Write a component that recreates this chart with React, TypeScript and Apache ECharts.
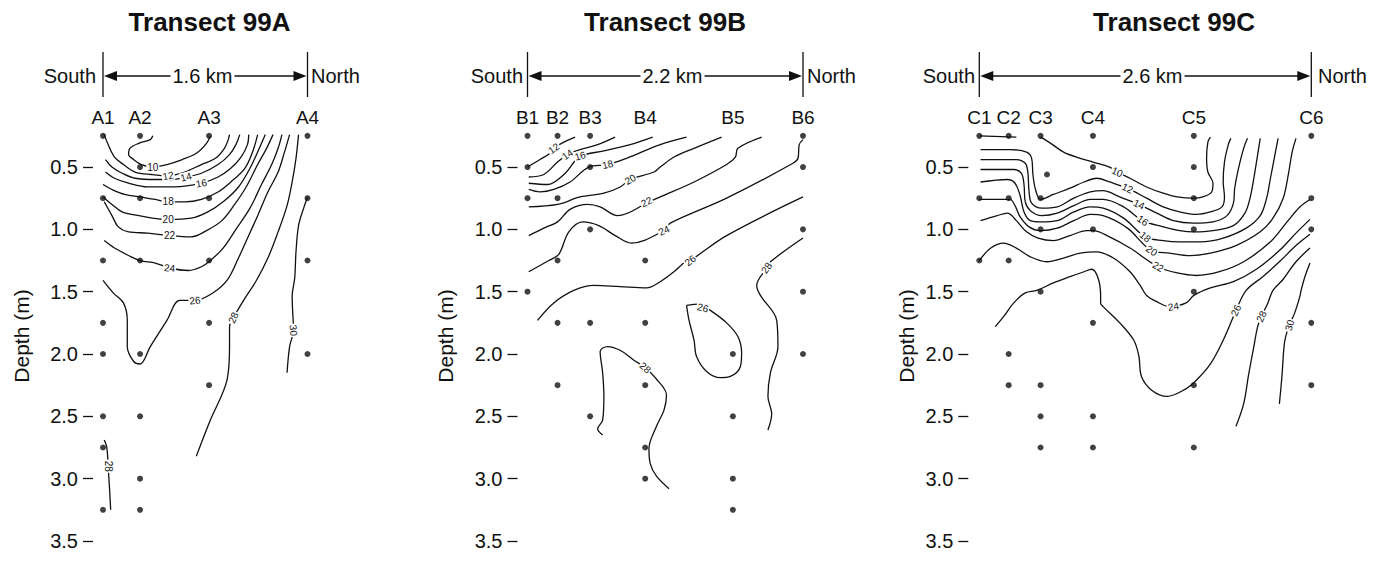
import React, { useEffect, useRef } from 'react';
import * as echarts from 'echarts';

const FONT = '"Liberation Sans", Arial, Helvetica, sans-serif';
const INK = '#111';

const depthTicks = [0.5, 1.0, 1.5, 2.0, 2.5, 3.0, 3.5];

// ---------------- Transect 99A ----------------
const stationsA = ['A1', 'A2', 'A3', 'A4'];
const stationKmA = [0, 0.29, 0.83, 1.6];
const sampleDepthsA = [
  [0.25, 0.75, 1.25, 1.75, 2.0, 2.5, 2.75, 3.25],
  [0.25, 0.5, 0.75, 1.25, 2.0, 2.5, 3.0, 3.25],
  [0.25, 0.75, 1.25, 1.75, 2.25],
  [0.25, 0.75, 1.25, 2.0],
];
const isoA10 = [[0.39,0.25],[0.37,0.28],[0.28,0.31],[0.21,0.35],[0.2,0.4],[0.24,0.44],[0.3,0.48],[0.39,0.5],[0.5,0.48],[0.62,0.44],[0.73,0.39],[0.81,0.31],[0.84,0.25]];
const isoA12 = [[0.01,0.24],[0.04,0.32],[0.09,0.42],[0.16,0.48],[0.25,0.54],[0.38,0.56],[0.51,0.57],[0.64,0.54],[0.77,0.48],[0.88,0.43],[0.95,0.35],[0.98,0.28],[0.99,0.24]];
const isoA14 = [[0.02,0.44],[0.07,0.5],[0.15,0.55],[0.25,0.59],[0.41,0.6],[0.54,0.6],[0.65,0.58],[0.77,0.55],[0.9,0.48],[0.99,0.4],[1.04,0.32],[1.07,0.24]];
const isoA16 = [[0.02,0.54],[0.09,0.59],[0.2,0.63],[0.35,0.66],[0.56,0.66],[0.77,0.63],[0.9,0.58],[1.0,0.51],[1.08,0.42],[1.13,0.32],[1.14,0.24]];
const isoA18 = [[0.0,0.64],[0.07,0.68],[0.17,0.72],[0.29,0.74],[0.41,0.76],[0.51,0.78],[0.64,0.78],[0.77,0.76],[0.9,0.7],[1.0,0.62],[1.11,0.51],[1.17,0.38],[1.21,0.24]];
const isoA20 = [[0.0,0.74],[0.07,0.8],[0.15,0.86],[0.28,0.89],[0.51,0.92],[0.69,0.91],[0.82,0.86],[0.95,0.77],[1.06,0.66],[1.15,0.51],[1.21,0.38],[1.27,0.24]];
const isoA22 = [[0.01,0.78],[0.07,0.89],[0.12,0.98],[0.2,1.02],[0.35,1.03],[0.52,1.05],[0.69,1.06],[0.81,1.01],[0.93,0.93],[1.03,0.8],[1.12,0.66],[1.21,0.48],[1.28,0.35],[1.33,0.24]];
const isoA24 = [[0.01,1.09],[0.09,1.15],[0.2,1.21],[0.29,1.25],[0.41,1.27],[0.52,1.31],[0.67,1.33],[0.77,1.3],[0.84,1.25],[0.94,1.15],[1.04,1.0],[1.15,0.83],[1.24,0.64],[1.32,0.48],[1.37,0.35],[1.4,0.24]];
const isoA26 = [[0.0,1.41],[0.08,1.51],[0.16,1.59],[0.19,1.73],[0.19,1.94],[0.24,2.06],[0.29,2.08],[0.37,1.94],[0.5,1.73],[0.6,1.57],[0.72,1.57],[0.86,1.51],[0.97,1.41],[1.06,1.23],[1.14,1.05],[1.21,0.89],[1.29,0.7],[1.37,0.54],[1.42,0.38],[1.46,0.24]];
const isoA28 = [[0.73,2.82],[0.84,2.53],[0.97,2.21],[0.99,1.94],[0.99,1.78],[1.02,1.71],[1.1,1.57],[1.2,1.41],[1.29,1.23],[1.37,1.02],[1.44,0.81],[1.48,0.62],[1.51,0.43],[1.53,0.24]];
const isoA30 = [[1.6,0.74],[1.57,0.83],[1.53,0.97],[1.51,1.18],[1.5,1.39],[1.48,1.54],[1.49,1.81],[1.46,1.94],[1.44,2.15]];
const isoA28b = [[0.01,2.69],[0.03,2.75],[0.04,2.9],[0.05,3.06],[0.06,3.25]];
// [km, depth, isotherm value, text angle in degrees]
const contourLabelsA = [
  [0.39,0.5,10,0],[0.51,0.57,12,10],[0.65,0.58,14,15],[0.77,0.63,16,10],[0.51,0.78,18,0],
  [0.51,0.92,20,0],[0.52,1.05,22,0],[0.52,1.31,24,-5],[0.72,1.57,26,5],[1.02,1.71,28,65],
  [1.49,1.81,30,-85],[0.04,2.9,28,-90],
];

// ---------------- Transect 99B ----------------
const stationsB = ['B1', 'B2', 'B3', 'B4', 'B5', 'B6'];
const stationKmB = [0, 0.24, 0.5, 0.94, 1.64, 2.2];
const sampleDepthsB = [
  [0.25, 0.5, 0.75, 1.5],
  [0.25, 0.75, 1.25, 1.75, 2.25],
  [0.25, 0.5, 1.0, 1.75, 2.5],
  [1.25, 1.75, 2.25, 2.75, 3.0],
  [2.0, 2.5, 3.0, 3.25],
  [0.25, 0.5, 1.0, 1.5, 2.0],
];
const isoB12 = [[0,0.5],[0.1,0.44],[0.18,0.39],[0.21,0.35],[0.29,0.3],[0.38,0.26]];
const isoB14 = [[0.01,0.58],[0.13,0.56],[0.24,0.46],[0.32,0.4],[0.42,0.36],[0.56,0.32],[0.7,0.26]];
const isoB16 = [[0.01,0.63],[0.16,0.64],[0.29,0.56],[0.38,0.45],[0.42,0.41],[0.61,0.37],[0.82,0.32],[1.0,0.26]];
const isoB18 = [[0.01,0.68],[0.1,0.7],[0.21,0.68],[0.34,0.62],[0.49,0.5],[0.64,0.48],[0.79,0.43],[1.06,0.32],[1.27,0.26]];
const isoB20 = [[0.01,0.82],[0.24,0.8],[0.42,0.74],[0.61,0.71],[0.74,0.66],[0.82,0.6],[1.01,0.54],[1.06,0.5],[1.17,0.42],[1.33,0.35],[1.55,0.26]];
const isoB22 = [[0.01,1.05],[0.13,0.99],[0.24,0.94],[0.34,0.84],[0.48,0.8],[0.58,0.82],[0.72,0.89],[0.97,0.78],[1.06,0.74],[1.33,0.62],[1.59,0.48],[1.66,0.42],[1.68,0.35],[1.87,0.26]];
const isoB24 = [[0.01,1.34],[0.17,1.25],[0.25,1.2],[0.33,1.02],[0.44,0.94],[0.57,0.97],[0.7,1.05],[0.83,1.11],[1.09,1.01],[1.14,0.95],[1.59,0.75],[2.12,0.47],[2.16,0.43],[2.17,0.32],[2.2,0.28]];
const isoB26 = [[0.08,1.73],[0.21,1.59],[0.37,1.49],[0.53,1.45],[0.74,1.46],[0.95,1.47],[1.06,1.42],[1.17,1.34],[1.26,1.26],[1.3,1.25],[1.59,1.05],[2.2,0.74]];
const isoB26loop = [[1.27,1.61],[1.37,1.6],[1.46,1.65],[1.59,1.75],[1.68,1.86],[1.71,1.99],[1.7,2.1],[1.62,2.18],[1.54,2.19],[1.43,2.14],[1.35,2.02],[1.33,1.89],[1.29,1.73],[1.27,1.61]];
const isoB28 = [[2.2,1.07],[1.94,1.26],[1.91,1.31],[1.83,1.45],[1.86,1.53],[1.99,1.73],[2.0,1.94],[1.94,2.15],[1.92,2.34],[1.95,2.48],[1.92,2.61]];
const isoB28mid = [[0.6,2.65],[0.56,2.6],[0.6,2.53],[0.61,2.34],[0.6,2.15],[0.58,1.98],[0.64,1.94],[0.74,1.97],[0.85,2.05],[0.94,2.11],[1.02,2.19],[1.11,2.33],[1.09,2.45],[1.03,2.58],[0.97,2.76],[0.98,2.88],[1.03,2.98],[1.13,3.08]];
const contourLabelsB = [
  [0.21,0.35,12,35],[0.32,0.4,14,35],[0.42,0.41,16,15],[0.64,0.48,18,15],[0.82,0.6,20,30],
  [0.95,0.78,22,25],[1.09,1.01,24,25],[1.3,1.25,26,40],[1.91,1.31,28,55],[1.4,1.63,26,-15],
  [0.94,2.11,28,-40],
];

// ---------------- Transect 99C ----------------
const stationsC = ['C1', 'C2', 'C3', 'C4', 'C5', 'C6'];
const stationKmC = [0, 0.23, 0.48, 0.89, 1.68, 2.6];
const sampleDepthsC = [
  [0.25, 0.75, 1.25],
  [0.25, 0.75, 1.25, 2.0, 2.25],
  [0.25, 0.75, 1.0, 1.5, 2.25, 2.5, 2.75],
  [0.25, 0.5, 1.0, 1.75, 2.5, 2.75],
  [0.25, 0.5, 0.75, 1.0, 1.5, 2.25, 2.75],
  [0.25, 0.75, 1.0, 1.75, 2.25],
];
const extraSamplesC = [[0.53, 0.56]];
const isoC10top = [[0,0.25],[0.29,0.26]];
const isoC10 = [[0.48,0.26],[0.56,0.31],[0.66,0.38],[0.79,0.43],[0.89,0.46],[1.02,0.5],[1.08,0.54],[1.18,0.59],[1.31,0.66],[1.44,0.71],[1.55,0.74],[1.68,0.75],[1.75,0.74],[1.82,0.7],[1.83,0.63],[1.79,0.54],[1.78,0.43],[1.79,0.3],[1.81,0.26]];
const isoC12 = [[0.01,0.36],[0.24,0.36],[0.37,0.38],[0.41,0.43],[0.42,0.56],[0.44,0.68],[0.48,0.76],[0.58,0.72],[0.71,0.67],[0.82,0.62],[0.92,0.59],[1.02,0.62],[1.16,0.67],[1.31,0.75],[1.44,0.82],[1.57,0.86],[1.7,0.88],[1.81,0.86],[1.9,0.82],[1.92,0.74],[1.91,0.62],[1.92,0.46],[1.95,0.32],[1.97,0.27]];
const isoC14 = [[0.01,0.44],[0.29,0.44],[0.36,0.47],[0.38,0.54],[0.39,0.7],[0.41,0.79],[0.49,0.83],[0.61,0.82],[0.74,0.75],[0.87,0.7],[0.97,0.69],[1.1,0.74],[1.25,0.8],[1.39,0.87],[1.52,0.93],[1.68,0.95],[1.83,0.94],[1.94,0.89],[1.99,0.79],[2.0,0.67],[2.03,0.51],[2.07,0.35],[2.1,0.27]];
const isoC16 = [[0.01,0.52],[0.27,0.52],[0.33,0.55],[0.35,0.64],[0.36,0.78],[0.4,0.85],[0.49,0.89],[0.61,0.87],[0.74,0.81],[0.87,0.76],[0.97,0.76],[1.13,0.82],[1.28,0.93],[1.44,0.98],[1.57,1.01],[1.68,1.02],[1.83,1.01],[1.99,0.97],[2.08,0.87],[2.12,0.75],[2.15,0.59],[2.18,0.4],[2.2,0.27]];
const isoC18 = [[0.01,0.62],[0.22,0.6],[0.28,0.63],[0.32,0.73],[0.35,0.86],[0.4,0.93],[0.48,0.94],[0.61,0.93],[0.74,0.86],[0.87,0.82],[0.97,0.83],[1.13,0.91],[1.3,1.06],[1.44,1.09],[1.57,1.1],[1.73,1.1],[1.91,1.07],[2.09,0.99],[2.2,0.89],[2.25,0.75],[2.28,0.59],[2.31,0.43],[2.34,0.27]];
const isoC20 = [[0,0.76],[0.14,0.76],[0.24,0.76],[0.28,0.81],[0.32,0.9],[0.39,0.98],[0.48,1.01],[0.61,0.99],[0.74,0.93],[0.87,0.88],[0.97,0.89],[1.16,0.99],[1.35,1.17],[1.49,1.19],[1.65,1.21],[1.81,1.19],[2.01,1.13],[2.2,1.02],[2.3,0.91],[2.38,0.75],[2.42,0.56],[2.45,0.38],[2.48,0.27]];
const isoC22 = [[0.01,0.93],[0.14,0.89],[0.22,0.87],[0.29,0.93],[0.37,1.02],[0.46,1.07],[0.58,1.09],[0.71,1.05],[0.84,1.01],[0.89,1.01],[1.02,1.06],[1.18,1.15],[1.4,1.3],[1.55,1.35],[1.7,1.37],[1.88,1.34],[2.07,1.26],[2.28,1.1],[2.41,0.94],[2.51,0.82],[2.59,0.76]];
const isoC24 = [[0,1.25],[0.09,1.15],[0.19,1.11],[0.29,1.15],[0.4,1.22],[0.53,1.26],[0.66,1.23],[0.79,1.19],[0.92,1.18],[1.05,1.23],[1.18,1.34],[1.26,1.45],[1.31,1.53],[1.39,1.58],[1.49,1.62],[1.62,1.59],[1.68,1.53],[1.81,1.47],[1.99,1.42],[2.17,1.32],[2.35,1.17],[2.48,1.03],[2.59,0.92]];
const isoC26 = [[0.125,1.78],[0.19,1.7],[0.27,1.59],[0.36,1.51],[0.45,1.49],[0.58,1.43],[0.71,1.38],[0.82,1.34],[0.88,1.32],[0.93,1.39],[0.95,1.53],[0.95,1.59],[0.97,1.62],[1.1,1.75],[1.21,1.89],[1.25,2.02],[1.27,2.18],[1.35,2.29],[1.47,2.34],[1.6,2.29],[1.7,2.21],[1.81,2.08],[1.91,1.89],[1.99,1.7],[2.01,1.65],[2.09,1.49],[2.22,1.38],[2.35,1.26],[2.48,1.13],[2.59,1.04]];
const isoC28 = [[2.01,2.58],[2.07,2.4],[2.11,2.16],[2.15,1.94],[2.18,1.78],[2.21,1.7],[2.26,1.59],[2.3,1.49],[2.38,1.4],[2.48,1.26],[2.59,1.15]];
const isoC30 = [[2.35,2.4],[2.37,2.18],[2.39,1.91],[2.42,1.79],[2.47,1.67],[2.51,1.54],[2.52,1.49],[2.55,1.38],[2.59,1.27]];
const contourLabelsC = [
  [1.08,0.54,10,-25],[1.16,0.67,12,-25],[1.25,0.8,14,-25],[1.28,0.93,16,-35],[1.3,1.06,18,-40],
  [1.35,1.17,20,-35],[1.4,1.3,22,-30],[1.52,1.62,24,10],[2.01,1.65,26,65],[2.21,1.7,28,65],
  [2.43,1.77,30,75],
];

// ---------------- layout per panel ----------------
const panels = [
  {
    title: 'Transect 99A', span: '1.6 km', lengthKm: 1.6,
    stations: stationsA, stationKm: stationKmA, depths: sampleDepthsA, extra: [] as number[][],
    contours: [isoA10, isoA12, isoA14, isoA16, isoA18, isoA20, isoA22, isoA24, isoA26, isoA28, isoA30, isoA28b],
    labels: contourLabelsA,
    left: 103, width: 204.5, titleX: 209.5, spanX: 202.5, depthX: 21, southRight: 96, northLeft: 311, gap: 10,
  },
  {
    title: 'Transect 99B', span: '2.2 km', lengthKm: 2.2,
    stations: stationsB, stationKm: stationKmB, depths: sampleDepthsB, extra: [] as number[][],
    contours: [isoB12, isoB14, isoB16, isoB18, isoB20, isoB22, isoB24, isoB26, isoB26loop, isoB28, isoB28mid],
    labels: contourLabelsB,
    left: 527.5, width: 275.5, titleX: 665, spanX: 672.5, depthX: 445, southRight: 523, northLeft: 807, gap: 10,
  },
  {
    title: 'Transect 99C', span: '2.6 km', lengthKm: 2.6,
    stations: stationsC, stationKm: stationKmC, depths: sampleDepthsC, extra: extraSamplesC,
    contours: [isoC10top, isoC10, isoC12, isoC14, isoC16, isoC18, isoC20, isoC22, isoC24, isoC26, isoC28, isoC30],
    labels: contourLabelsC,
    left: 979.3, width: 332, titleX: 1174, spanX: 1152.5, depthX: 906, southRight: 975, northLeft: 1318, gap: 11,
  },
];

const GRID_TOP = 104.7;
const GRID_H = 436.3;
const ARROW_Y = 76;

function renderContourLabel(params: any, api: any) {
  const pt = api.coord([api.value(0), api.value(1)]);
  return {
    type: 'text',
    x: pt[0],
    y: pt[1],
    rotation: (api.value(3) * Math.PI) / 180,
    style: {
      text: String(api.value(2)),
      fill: INK,
      fontSize: 10,
      fontFamily: FONT,
      align: 'center',
      verticalAlign: 'middle',
      backgroundColor: '#fff',
      padding: [0, 1],
    },
  };
}

function buildOption() {
  const grid: any[] = [];
  const xAxis: any[] = [];
  const yAxis: any[] = [];
  const series: any[] = [];
  const graphic: any[] = [];

  panels.forEach((p, i) => {
    // the depth axis sits a small gap to the left of the first station
    const kmPerPx = p.lengthKm / p.width;
    grid.push({
      left: p.left - p.gap, top: GRID_TOP, width: p.width + p.gap, height: GRID_H,
      containLabel: false, outerBoundsMode: 'none',
    });
    xAxis.push({
      type: 'value', gridIndex: i, min: -p.gap * kmPerPx, max: p.lengthKm, position: 'top',
      axisLine: { show: false, onZero: false }, axisTick: { show: false }, splitLine: { show: false },
      axisLabel: {
        inside: true, margin: 3, customValues: p.stationKm, hideOverlap: false,
        formatter: (v: number) => {
          const k = p.stationKm.findIndex((s) => Math.abs(s - v) < 1e-6);
          return k >= 0 ? p.stations[k] : '';
        },
        fontSize: 19, color: INK, fontFamily: FONT, verticalAlign: 'top',
      },
    });
    yAxis.push({
      type: 'value', gridIndex: i, inverse: true, min: 0, max: 3.5, position: 'left',
      axisLine: { show: false, onZero: false },
      axisTick: { show: true, inside: false, customValues: depthTicks, length: 10, lineStyle: { color: INK, width: 1.3 } },
      axisLabel: {
        customValues: depthTicks, formatter: (v: number) => v.toFixed(1), margin: 15,
        fontSize: 20, color: INK, fontFamily: FONT,
      },
      splitLine: { show: false },
    });

    p.contours.forEach((c) => {
      series.push({
        type: 'line', xAxisIndex: i, yAxisIndex: i, data: c, showSymbol: false, symbol: 'none',
        smooth: 0.35, lineStyle: { color: INK, width: 1.3 }, silent: true, z: 2,
        emphasis: { disabled: true },
      });
    });

    series.push({
      type: 'custom', xAxisIndex: i, yAxisIndex: i, z: 3, silent: true,
      data: p.labels,
      renderItem: renderContourLabel,
      encode: { x: 0, y: 1 },
    });

    const dots: number[][] = [];
    p.stationKm.forEach((km, j) => p.depths[j].forEach((d) => dots.push([km, d])));
    p.extra.forEach((e) => dots.push(e));
    series.push({
      type: 'scatter', xAxisIndex: i, yAxisIndex: i, data: dots, symbol: 'circle', symbolSize: 6,
      itemStyle: { color: INK }, z: 4, silent: true, emphasis: { disabled: true },
    });

    const divL = p.left;
    const divR = p.left + p.width;
    graphic.push(
      { type: 'text', x: p.titleX, y: 22, style: { text: p.title, fontSize: 26, fontWeight: 'bold', fontFamily: FONT, fill: INK, align: 'center', verticalAlign: 'middle' } },
      { type: 'line', shape: { x1: divL, y1: 52, x2: divL, y2: 97 }, style: { stroke: INK, lineWidth: 1.3 } },
      { type: 'line', shape: { x1: divR, y1: 52, x2: divR, y2: 97 }, style: { stroke: INK, lineWidth: 1.3 } },
      { type: 'line', shape: { x1: divL + 12, y1: ARROW_Y, x2: divR - 12, y2: ARROW_Y }, style: { stroke: INK, lineWidth: 1.3 } },
      { type: 'polygon', shape: { points: [[divL + 1, ARROW_Y], [divL + 14, ARROW_Y - 5], [divL + 14, ARROW_Y + 5]] }, style: { fill: INK } },
      { type: 'polygon', shape: { points: [[divR - 1, ARROW_Y], [divR - 14, ARROW_Y - 5], [divR - 14, ARROW_Y + 5]] }, style: { fill: INK } },
      { type: 'text', x: p.spanX, y: ARROW_Y, style: { text: p.span, fontSize: 20, fontFamily: FONT, fill: INK, align: 'center', verticalAlign: 'middle', backgroundColor: '#fff', padding: [0, 2] } },
      { type: 'text', x: p.southRight, y: ARROW_Y, style: { text: 'South', fontSize: 20, fontFamily: FONT, fill: INK, align: 'right', verticalAlign: 'middle' } },
      { type: 'text', x: p.northLeft, y: ARROW_Y, style: { text: 'North', fontSize: 20, fontFamily: FONT, fill: INK, align: 'left', verticalAlign: 'middle' } },
      { type: 'text', x: p.depthX, y: 336, rotation: Math.PI / 2, style: { text: 'Depth (m)', fontSize: 21, fontFamily: FONT, fill: INK, align: 'center', verticalAlign: 'middle' } },
    );
  });

  return {
    animation: false,
    backgroundColor: '#fff',
    grid, xAxis, yAxis, series, graphic,
  };
}

export default function App() {
  const ref = useRef<HTMLDivElement>(null);
  useEffect(() => {
    if (!ref.current) return;
    const chart = echarts.init(ref.current, undefined, { renderer: 'svg' });
    chart.setOption(buildOption() as any);
    return () => chart.dispose();
  }, []);
  return (
    <div
      ref={ref}
      style={{ position: 'fixed', left: 0, top: 0, width: 1379, height: 564, background: '#fff' }}
    />
  );
}
